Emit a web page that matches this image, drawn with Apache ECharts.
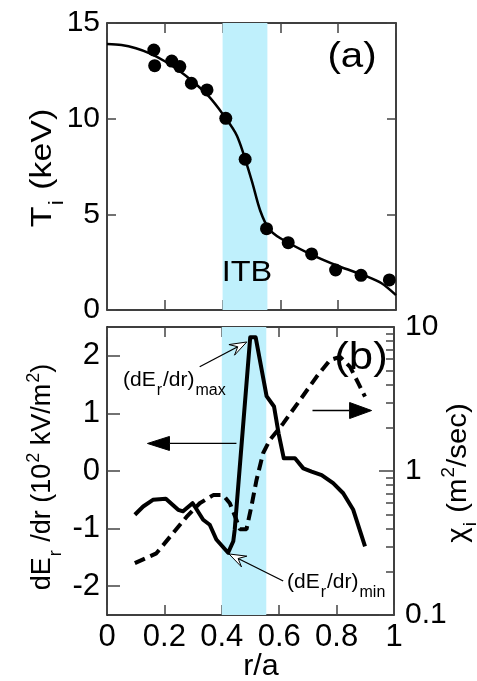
<!DOCTYPE html>
<html>
<head>
<meta charset="utf-8">
<script src="https://cdn.jsdelivr.net/npm/echarts@6/dist/echarts.min.js"></script>
<style>
  html, body { margin: 0; padding: 0; background: #fff; }
  #chart { width: 477px; height: 681px; }
</style>
</head>
<body>
<div id="chart"></div>
<script>
// panel (a): measured Ti points and the fitted profile
var tiR = [0.162, 0.165, 0.224, 0.252, 0.292, 0.346, 0.411, 0.478, 0.552, 0.627, 0.708, 0.791, 0.879, 0.977];
var tiKeV = [13.59, 12.77, 13.01, 12.72, 11.85, 11.5, 10.02, 7.88, 4.25, 3.52, 2.93, 2.09, 1.81, 1.57];
var fitR = [0, 0.05, 0.1, 0.15, 0.2, 0.25, 0.3, 0.35, 0.4, 0.45, 0.5, 0.53, 0.56, 0.6, 0.7, 0.8, 0.9, 0.95, 1.0];
var fitKeV = [13.9, 13.85, 13.68, 13.4, 13.0, 12.5, 11.9, 11.2, 10.25, 9.1, 6.8, 5.2, 4.25, 3.75, 2.95, 2.3, 1.75, 1.4, 0.78];

// panel (b): dEr/dr (left axis) and chi_i (right log axis)
var erR = [0.097, 0.126, 0.16, 0.205, 0.248, 0.265, 0.298, 0.306, 0.335, 0.358, 0.381, 0.422, 0.44, 0.445, 0.499, 0.518, 0.556, 0.582, 0.598, 0.616, 0.655, 0.684, 0.713, 0.748, 0.788, 0.823, 0.858, 0.899];
var erVal = [-0.76, -0.616, -0.5, -0.48, -0.674, -0.7, -0.558, -0.617, -0.846, -0.933, -1.19, -1.42, -1.22, -1.02, 2.32, 2.32, 1.3, 1.12, 0.65, 0.22, 0.22, 0.046, -0.01, -0.07, -0.21, -0.386, -0.674, -1.307];
var chiR = [0.097, 0.172, 0.23, 0.277, 0.323, 0.37, 0.405, 0.428, 0.451, 0.463, 0.486, 0.503, 0.521, 0.544, 0.567, 0.614, 0.672, 0.73, 0.777, 0.812, 0.847, 0.876, 0.899];
var chiVal = [0.229, 0.268, 0.37, 0.48, 0.597, 0.68, 0.68, 0.597, 0.457, 0.394, 0.394, 0.566, 0.867, 1.33, 1.64, 2.14, 3.1, 4.51, 5.89, 6.21, 5.29, 4.06, 3.28];

// ITB band and ticks
var itbBand = [0.4, 0.555];
var xTicks = [0, 0.2, 0.4, 0.6, 0.8, 1];
var tiTicks = [0, 5, 10, 15];
var erTicks = [-2, -1, 0, 1, 2];
var chiMinorTicks = [0.2, 0.3, 0.4, 0.5, 0.6, 0.7, 0.8, 0.9, 2, 3, 4, 5, 6, 7, 8, 9];

// arrows [tail, tip] in data units of panel (b), left axis
var maxArrow = [[0.323, 1.81], [0.487, 2.24]];
var minArrow = [[0.614, -1.91], [0.425, -1.44]];
var leftArrow = [[0.451, 0.478], [0.141, 0.478]];
var rightArrow = [[0.716, 1.05], [0.922, 1.05]];

var FONT = '"Liberation Sans", Arial, sans-serif';

function pairs(a, b) {
  return a.map(function (v, i) { return [v, b[i]]; });
}

var chart = echarts.init(document.getElementById('chart'));

var tickGray = { show: true, inside: true, length: 10, lineStyle: { color: '#444', width: 1.5 } };
var frameLine = { show: true, onZero: false, lineStyle: { color: '#000', width: 1.5 } };

function xAx(grid, pos, labels) {
  return {
    type: 'value', gridIndex: grid, position: pos, min: 0, max: 1,
    axisLine: frameLine,
    axisTick: Object.assign({}, tickGray, { customValues: xTicks }),
    axisLabel: {
      show: labels, customValues: xTicks, margin: 7, color: '#000',
      fontSize: 31, fontFamily: FONT
    },
    splitLine: { show: false }
  };
}

var band = {
  silent: true,
  itemStyle: { color: '#bff0fc' },
  data: [[{ xAxis: itbBand[0] }, { xAxis: itbBand[1] }]]
};

var bottomRect = { left: 107, top: 327, width: 287, height: 288 };

var option = {
  animation: false,
  backgroundColor: '#fff',
  grid: [
    { left: 107, top: 23, width: 289, height: 287 },
    bottomRect,
    bottomRect   // overlay grid that only carries the minor chi ticks
  ],
  xAxis: [
    xAx(0, 'bottom', false),
    xAx(0, 'top', false),
    xAx(1, 'bottom', true),
    xAx(1, 'top', false),
    { type: 'value', gridIndex: 2, min: 0, max: 1, show: false }
  ],
  yAxis: [
    {
      type: 'value', gridIndex: 0, position: 'left', min: 0, max: 15,
      axisLine: frameLine,
      axisTick: Object.assign({}, tickGray, { length: 9, customValues: tiTicks }),
      axisLabel: { customValues: tiTicks, margin: 7, color: '#000', fontSize: 30, fontFamily: FONT },
      splitLine: { show: false }
    },
    {
      type: 'value', gridIndex: 0, position: 'right', min: 0, max: 15,
      axisLine: frameLine,
      axisTick: Object.assign({}, tickGray, { length: 9, customValues: tiTicks }),
      axisLabel: { show: false },
      splitLine: { show: false }
    },
    {
      type: 'value', gridIndex: 1, position: 'left', min: -2.5, max: 2.5,
      axisLine: frameLine,
      axisTick: Object.assign({}, tickGray, { length: 13, customValues: erTicks }),
      axisLabel: { customValues: erTicks, margin: 7, color: '#000', fontSize: 31, fontFamily: FONT },
      splitLine: { show: false }
    },
    {
      type: 'log', logBase: 10, gridIndex: 1, position: 'right', min: 0.1, max: 10,
      axisLine: frameLine,
      axisTick: Object.assign({}, tickGray, { length: 15 }),
      axisLabel: {
        margin: 11, color: '#000', fontSize: 30, fontFamily: FONT,
        padding: [14, 0, 0, 0],
        formatter: function (v) { return String(+v.toPrecision(3)); }
      },
      splitLine: { show: false }
    },
    {
      // minor decade ticks at log10 positions
      type: 'value', gridIndex: 2, position: 'right', min: -1, max: 1,
      axisLine: { show: false, onZero: false },
      axisTick: Object.assign({}, tickGray, { length: 8, customValues: chiMinorTicks.map(Math.log10) }),
      axisLabel: { show: false },
      splitLine: { show: false }
    }
  ],
  series: [
    {
      name: 'fit', type: 'line', xAxisIndex: 0, yAxisIndex: 0,
      data: pairs(fitR, fitKeV), smooth: 0.3, showSymbol: false, z: 3,
      lineStyle: { color: '#000', width: 2.5 },
      markArea: band
    },
    {
      name: 'Ti', type: 'scatter', xAxisIndex: 0, yAxisIndex: 0,
      data: pairs(tiR, tiKeV), symbol: 'circle', symbolSize: 13, z: 4,
      itemStyle: { color: '#000', opacity: 1 }
    },
    {
      name: 'dEr/dr', type: 'line', xAxisIndex: 2, yAxisIndex: 2,
      data: pairs(erR, erVal), showSymbol: false, z: 4,
      lineStyle: { color: '#000', width: 4, join: 'round' },
      markArea: band
    },
    {
      name: 'chi', type: 'line', xAxisIndex: 2, yAxisIndex: 3,
      data: pairs(chiR, chiVal), showSymbol: false, z: 3,
      lineStyle: { color: '#000', width: 4, type: [11, 6] }
    }
  ]
};

chart.setOption(option);

function arrow(a, open, headLen, headW) {
  var p0 = chart.convertToPixel({ seriesIndex: 2 }, a[0]);
  var p1 = chart.convertToPixel({ seriesIndex: 2 }, a[1]);
  var dx = p1[0] - p0[0], dy = p1[1] - p0[1];
  var len = Math.sqrt(dx * dx + dy * dy);
  var ux = dx / len, uy = dy / len, nx = -uy, ny = ux;
  var bx = p1[0] - ux * headLen, by = p1[1] - uy * headLen;
  var notch = open ? 0.6 : 1;
  var nxp = p1[0] - ux * headLen * notch, nyp = p1[1] - uy * headLen * notch;
  return [
    {
      type: 'polyline', z: 10, silent: true,
      shape: { points: [p0, [nxp, nyp]] },
      style: { stroke: '#000', lineWidth: 1.3, fill: null }
    },
    {
      type: 'polygon', z: 11, silent: true,
      shape: { points: [p1, [bx + nx * headW, by + ny * headW], [nxp, nyp], [bx - nx * headW, by - ny * headW]] },
      style: { fill: open ? '#fff' : '#000', stroke: '#000', lineWidth: 1 }
    }
  ];
}

function txt(x, y, text, size, sx) {
  return {
    type: 'text', x: x, y: y, z: 12, silent: true, scaleX: sx || 1,
    style: {
      text: text, fill: '#000', font: size + 'px ' + FONT,
      align: 'center', verticalAlign: 'middle'
    }
  };
}

var annRich = {
  m: { fontSize: 21, fontFamily: FONT, lineHeight: 22, verticalAlign: 'top' },
  s: { fontSize: 16, fontFamily: FONT, lineHeight: 16, padding: [13, 1, 0, 1], verticalAlign: 'top' }
};

function axRich(size) {
  var sub = Math.round(size * 0.66);
  return {
    m: { fontSize: size, fontFamily: FONT, lineHeight: size + 3, padding: [4, 0, 0, 0], verticalAlign: 'top' },
    s: { fontSize: sub, fontFamily: FONT, lineHeight: sub, padding: [Math.round(size * 0.8), 1, 0, 1], verticalAlign: 'top' },
    p: { fontSize: sub, fontFamily: FONT, lineHeight: sub, padding: [0, 0, 0, 1], verticalAlign: 'top' }
  };
}

function richTxt(x, y, text, rich, rot, align, sx) {
  return {
    type: 'text', x: x, y: y, z: 12, silent: true, rotation: rot || 0, scaleX: sx || 1,
    style: {
      text: text, rich: rich, fill: '#000',
      align: align || 'center', verticalAlign: 'middle'
    }
  };
}

var graphics = []
  .concat(arrow(maxArrow, true, 17, 6))
  .concat(arrow(minArrow, true, 17, 6))
  .concat(arrow(leftArrow, false, 22, 7))
  .concat(arrow(rightArrow, false, 22, 8))
  .concat([
    txt(352, 57, '(a)', 35, 1.15),
    txt(247, 273, 'ITB', 29, 1.12),
    txt(361, 359, '(b)', 38, 1.15),
    txt(261, 667, 'r/a', 29, 1.05),
    richTxt(123, 381, '{m|(dE}{s|r}{m|/dr)}{s|max}', annRich, 0, 'left'),
    richTxt(287, 583, '{m|(dE}{s|r}{m|/dr)}{s|min}', annRich, 0, 'left'),
    richTxt(40, 168, '{m|T}{s|i}{m| (keV)}', axRich(30), Math.PI / 2, 'center', 1.13),
    richTxt(40, 477, '{m|dE}{s|r}{m| /dr (10}{p|2}{m| kV/m}{p|2}{m|)}', axRich(27), Math.PI / 2),
    richTxt(456, 473, '{m|\u03c7}{s|i}{m| (m}{p|2}{m|/sec)}', axRich(28), Math.PI / 2, 'center', 1.05)
  ]);

chart.setOption({ graphic: graphics });
</script>
</body>
</html>
